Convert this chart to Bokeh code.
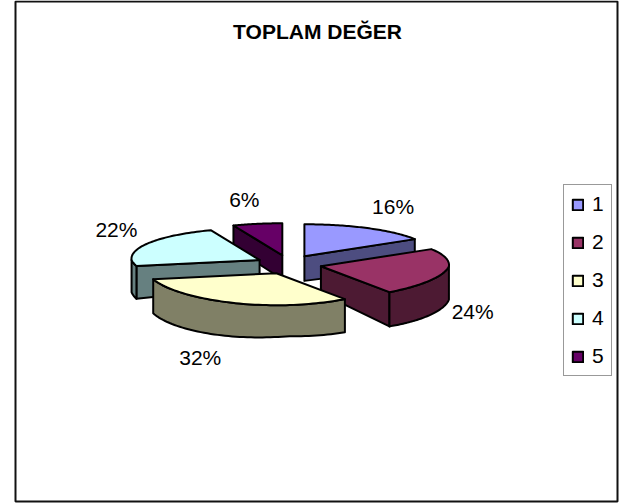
import numpy as np
from bokeh.core.properties import value
from bokeh.embed import file_html
from bokeh.models import BoxAnnotation, Legend, LegendItem, Range1d
from bokeh.plotting import figure
from bokeh.resources import INLINE

# data
categories = ["1", "2", "3", "4", "5"]
percents = [16, 24, 32, 22, 6]
chart_title = "TOPLAM DEĞER"

# styles
top_colors = ["#9999FF", "#993366", "#FFFFCC", "#CCFFFF", "#660066"]
side_colors = ["#4D4D80", "#4D1A33", "#808066", "#668080", "#330033"]
draw_order = [4, 0, 3, 1, 2]
label_offsets = [(27, -22), (26, 39), (-29, 55), (-31, -15), (-14, -24)]
FONT = "Liberation Sans"

# pie layout, in page pixels
CX, CY, RX, RY, EX, EY = 288, 264, 128, 32, 33, 9.4


def depth(x, y):
    return 24 + 0.15 * (np.asarray(y) - 257) + 0.05 * np.abs(np.asarray(x) - CX)


def rim(center, a0, a1, n=60):
    th = np.radians(np.linspace(a0, a1, n))
    co = np.cos(th)
    widen = 1 + np.where(co > 0, 0.04, 0.11) * co
    return center[0] + RX * widen * np.sin(th), center[1] - RY * co


p = figure(width=626, height=503, output_backend="svg", toolbar_location=None,
           x_range=Range1d(0, 626), y_range=Range1d(503, 0), min_border=0,
           outline_line_color=None, background_fill_color="white")
p.margin = 0
p.axis.visible = False
p.grid.visible = False

p.add_layout(BoxAnnotation(left=15, right=617, top=1, bottom=501, fill_color="white",
                           fill_alpha=1, line_color="#111111", line_alpha=1, line_width=2,
                           level="underlay"))

edges = np.concatenate([[0], np.cumsum(percents)]) * 3.6 / (sum(percents) / 100)
tops = {}
style = dict(line_color="black", line_width=2, line_join="round")

for i in draw_order:
    a0, a1 = edges[i], edges[i + 1]
    mid = np.radians((a0 + a1) / 2)
    c = (CX + EX * np.sin(mid), CY - EY * np.cos(mid))

    # radial wall facing the viewer
    for ang, seen in ((a0, np.sin(np.radians(a0)) < -1e-6), (a1, np.sin(np.radians(a1)) > 1e-6)):
        if seen:
            ex, ey = rim(c, ang, ang, 1)
            xs = [c[0], ex[0], ex[0], c[0]]
            ys = [c[1], ey[0], ey[0] + depth(ex[0], ey[0]), c[1] + depth(c[0], c[1])]
            p.patch(xs, ys, fill_color=side_colors[i], **style)

    # curved wall facing the viewer
    lo, hi = max(a0, 90), min(a1, 270)
    if hi > lo:
        ax, ay = rim(c, lo, hi)
        bx, by = ax, ay + depth(ax, ay)
        p.patch(np.r_[ax, bx[::-1]], np.r_[ay, by[::-1]], fill_color=side_colors[i], **style)

    # top face
    tx, ty = rim(c, a0, a1)
    tops[i] = p.patch(np.r_[c[0], tx], np.r_[c[1], ty], fill_color=top_colors[i], **style)

    # percent label
    ox, oy = label_offsets[i]
    p.text([c[0] + RX * np.sin(mid) + ox], [c[1] - RY * np.cos(mid) + oy], text=[f"{percents[i]}%"],
           text_font=value(FONT), text_font_size="21px", text_color="black",
           text_align="center", text_baseline="middle")

p.text([317], [31], text=[chart_title], text_font=value(FONT), text_font_size="21px",
       text_font_style="bold", text_color="black", text_align="center", text_baseline="middle")

legend = Legend(items=[LegendItem(label=c, renderers=[tops[i]]) for i, c in enumerate(categories)],
                location=(563, 127), orientation="vertical", padding=7, margin=0,
                spacing=14, glyph_width=13, glyph_height=13, label_height=15, label_width=11,
                label_standoff=8, label_text_font=FONT, label_text_font_size="21px",
                label_text_color="black", border_line_color="#333333", border_line_width=1,
                background_fill_color="white", background_fill_alpha=1)
p.add_layout(legend)

open("out.html", "w").write(file_html(p, INLINE))
